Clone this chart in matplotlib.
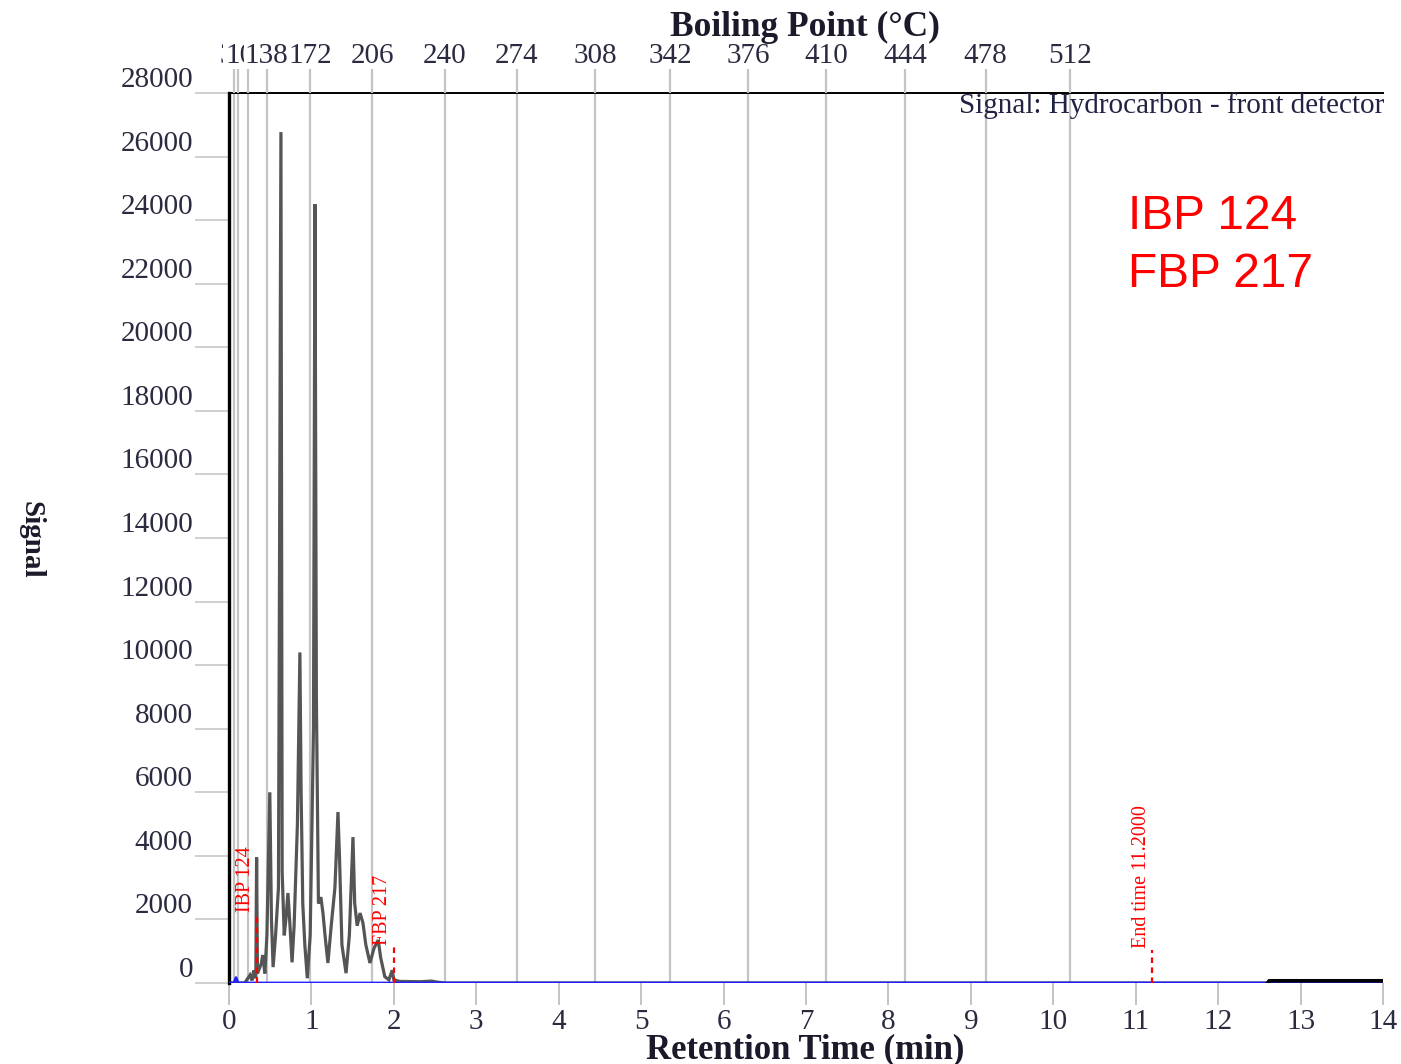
import matplotlib
matplotlib.use("Agg")
import matplotlib.pyplot as plt

W, H, DPI = 1401, 1064, 100
SERIF = ["Liberation Serif", "DejaVu Serif"]

# Hydrocarbon trace: retention time (min) and detector signal
time_min = [0.00, 0.19, 0.255, 0.28, 0.30, 0.325, 0.335, 0.345, 0.39, 0.41,
            0.435, 0.46, 0.495, 0.515, 0.535, 0.565, 0.60, 0.63, 0.645, 0.67,
            0.69, 0.715, 0.74, 0.765, 0.79, 0.83, 0.86, 0.875, 0.895, 0.92,
            0.95, 0.985, 1.025, 1.043, 1.06, 1.085, 1.115, 1.14, 1.165, 1.20,
            1.24, 1.285, 1.322, 1.34, 1.37, 1.42, 1.46, 1.504, 1.525, 1.555,
            1.59, 1.625, 1.66, 1.71, 1.76, 1.81, 1.84, 1.89, 1.94, 1.98,
            2.00, 2.07, 2.32, 2.46, 2.52, 2.62, 12.60, 12.62, 14.00]
signal = [0, 0, 250, 80, 400, 150, 3950, 300, 600, 880,
          300, 1500, 6000, 2000, 500, 1500, 3000, 26770, 3500, 1500,
          2000, 2830, 1800, 650, 1800, 5000, 10400, 6000, 2500, 1200,
          150, 1500, 8000, 24500, 9000, 2500, 2700, 2200, 1500, 630,
          1800, 3000, 5380, 4000, 1200, 310, 1500, 4590, 2500, 1800,
          2200, 1890, 1200, 630, 1100, 1350, 800, 200, 100, 400,
          100, 50, 40, 60, 30, 0, 0, 70, 70]

# Integration baseline
base_time = [0.0, 0.06, 0.085, 0.11, 14.0]
base_signal = [0, 0, 170, 0, 0]

# Boiling-point calibration (°C) against retention time (min)
bp_values = [36, 70, 104, 138, 172, 206, 240, 274, 308, 342, 376, 410, 444, 478, 512]
bp_times = [0.06, 0.11, 0.227, 0.457, 0.983, 1.735, 2.62, 3.49, 4.44, 5.35,
            6.30, 7.24, 8.20, 9.18, 10.20]

time_ticks = list(range(0, 15))
signal_ticks = list(range(0, 28001, 2000))

# Event markers
marker_labels = ["IBP 124", "FBP 217", "End time 11.2000"]
marker_times = [0.34, 2.0, 11.2]
marker_tops = [2080, 1130, 1040]
marker_text_y = [2230, 1200, 1100]

fig = plt.figure(figsize=(W / DPI, H / DPI), dpi=DPI)
left, right, top, bottom = 229, 1383, 93, 983
ax = fig.add_axes([left / W, 1 - bottom / H, (right - left) / W, (bottom - top) / H])
ax.set_xlim(0, 14)
ax.set_ylim(0, 28000)

grid_col = "#c4c4c4"
for t in bp_times:
    ax.axvline(t, color=grid_col, lw=1.6, zorder=0)

ax.plot(time_min, signal, color="#555555", lw=2.3, zorder=2, solid_joinstyle="miter")
# late-eluting tail drawn heavier, as the detector noise thickens it
tail = [i for i, t in enumerate(time_min) if t >= 12.6]
ax.plot([time_min[i] for i in tail], [signal[i] for i in tail],
        color="black", lw=2.6, zorder=4)
ax.plot(base_time, base_signal, color="#1f1fff", lw=2.0, zorder=3)

for lab, t, top_s, ty in zip(marker_labels, marker_times, marker_tops, marker_text_y):
    ax.plot([t, t], [0, top_s], color="red", lw=1.6, ls=(0, (2.5, 2)), zorder=5)
    ax.text(t - 0.02, ty, lab, rotation=90, ha="right", va="bottom",
            color="red", fontsize=14.5, family=SERIF, zorder=6)

ax.text(14.02, 27620, "Signal: Hydrocarbon - front detector", ha="right", va="center",
        fontsize=21, family=SERIF, color="#222244")

for s in ["right", "bottom"]:
    ax.spines[s].set_visible(False)
ax.spines["left"].set_linewidth(2.4)
ax.spines["left"].set_color("black")
ax.spines["top"].set_linewidth(1.4)
ax.spines["top"].set_color("black")

TICK_FS = 21
ax.set_xticks(time_ticks)
ax.set_xticklabels([str(v) for v in time_ticks])
ax.set_yticks(signal_ticks)
ax.set_yticklabels([str(v) for v in signal_ticks])
ax.tick_params(axis="x", length=16, width=1.4, color=grid_col, pad=3,
               labelsize=TICK_FS, labelcolor="#2a2a40")
ax.tick_params(axis="y", length=24.5, width=1.1, color=grid_col, pad=1.5,
               labelsize=TICK_FS, labelcolor="#2a2a40")
for lab in ax.get_xticklabels() + ax.get_yticklabels():
    lab.set_family(SERIF)
for lab in ax.get_yticklabels():
    lab.set_va("bottom")

ax2 = ax.twiny()
ax2.set_xlim(0, 14)
ax2.set_xticks(bp_times)
ax2.set_xticklabels([str(v) for v in bp_values])
ax2.tick_params(axis="x", length=18.5, width=1.6, color=grid_col, pad=-1,
                labelsize=TICK_FS, labelcolor="#2a2a40")
for s in ax2.spines.values():
    s.set_visible(False)
for lab in ax2.get_xticklabels():
    lab.set_family(SERIF)
    lab.set_bbox(dict(facecolor="white", edgecolor="none", pad=0.5))

fig.text(805 / W, 1 - 27 / H, "Boiling Point (°C)", ha="center", va="center",
         fontsize=25.5, fontweight="bold", family=SERIF, color="#1a1a2a")
fig.text(805 / W, 1 - 1058 / H, "Retention Time (min)", ha="center", va="baseline",
         fontsize=25, fontweight="bold", family=SERIF, color="#1a1a2a")
fig.text(31 / W, 1 - 540 / H, "Signal", ha="center", va="center", rotation=270,
         fontsize=21, fontweight="bold", family=SERIF, color="#1a1a2a")

fig.text(1128 / W, 1 - 229 / H, "IBP 124", ha="left", va="baseline",
         fontsize=34.5, color="#ff0000", family=["Liberation Sans", "DejaVu Sans"])
fig.text(1128 / W, 1 - 287 / H, "FBP 217", ha="left", va="baseline",
         fontsize=34.5, color="#ff0000", family=["Liberation Sans", "DejaVu Sans"])

fig.savefig("out.png", dpi=DPI)
